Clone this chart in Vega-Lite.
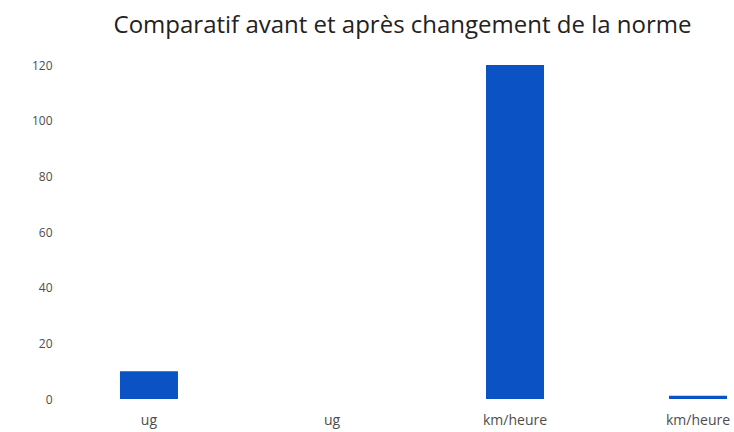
{
  "$schema": "https://vega.github.io/schema/vega-lite/v6.json",
  "autosize": "none",
  "width": 677,
  "height": 334,
  "padding": {"left": 57, "top": 65, "right": 0, "bottom": 33},
  "background": "white",
  "title": {
    "text": "Comparatif avant et après changement de la norme",
    "font": "Open Sans",
    "fontSize": 24,
    "fontWeight": "normal",
    "color": "#222222",
    "anchor": "middle",
    "dx": 7,
    "offset": 21
  },
  "data": {
    "values": [
      {"categorie": "ug|avant", "valeur": 10},
      {"categorie": "ug|après", "valeur": 0},
      {"categorie": "km/heure|avant", "valeur": 120},
      {"categorie": "km/heure|après", "valeur": 1.2}
    ]
  },
  "mark": {"type": "bar", "color": "#0b52c4"},
  "encoding": {
    "x": {
      "field": "categorie",
      "type": "nominal",
      "sort": null,
      "title": null,
      "scale": {"range": [0, 733], "paddingInner": 0.683, "paddingOuter": 0.344},
      "axis": {
        "labelExpr": "split(datum.label, '|')[0]",
        "labelAngle": 0,
        "ticks": false,
        "domain": false,
        "labelPadding": 14,
        "labelFont": "Open Sans",
        "labelFontSize": 14,
        "labelColor": "#4d4d4d"
      }
    },
    "y": {
      "field": "valeur",
      "type": "quantitative",
      "title": null,
      "scale": {"domain": [0, 120], "nice": false},
      "axis": {
        "values": [0, 20, 40, 60, 80, 100, 120],
        "ticks": false,
        "domain": false,
        "grid": false,
        "labelPadding": 5,
        "labelFont": "Open Sans",
        "labelFontSize": 12,
        "labelColor": "#4d4d4d"
      }
    }
  },
  "config": {"view": {"stroke": null}}
}
